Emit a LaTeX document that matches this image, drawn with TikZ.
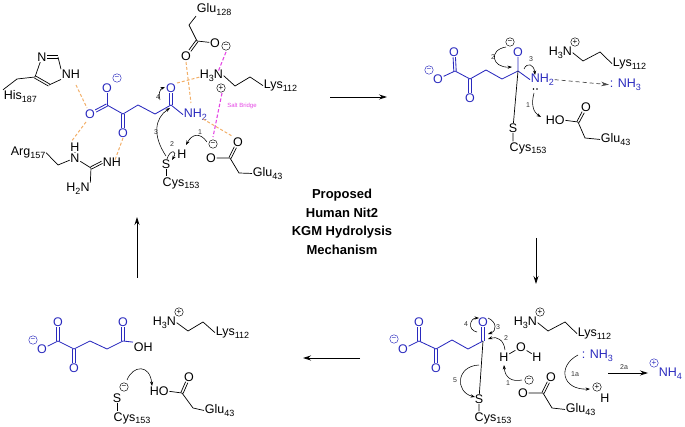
\documentclass[tikz,border=0pt]{standalone}
\usepackage{fontspec}
\setmainfont{Liberation Sans}
\usetikzlibrary{arrows.meta,calc}
\definecolor{molblue}{RGB}{42,42,190}
\definecolor{hbond}{RGB}{242,175,105}
\definecolor{salt}{RGB}{228,70,228}
\newcommand\sbs[1]{\raisebox{-2.6pt}{\fontsize{9}{9}\selectfont #1}}
\newcommand\A[4][]{\node[atom,#1] (#2) at (#3) {#4};}
\newcommand\CH[2]{\coordinate (#1) at (#2);}
\newcommand\CA[5]{\coordinate (#1s) at (#2); \coordinate (#1e) at (#5); \draw[curv] (#1s) .. controls (#3) and (#4) .. (#1e);}
\newcommand\HB[3]{\coordinate (#1s) at (#2); \coordinate (#1e) at (#3); \draw[hb] (#1s) -- (#1e);}
\newcommand\SB[3]{\coordinate (#1s) at (#2); \coordinate (#1e) at (#3); \draw[sb] (#1s) -- (#1e);}
% double bond between two named points: two parallel strokes
\newcommand\DB[3]{\path (#2)--(#3) coordinate[pos=0] (dbp) coordinate[pos=1] (dbq);
  \draw[#1] ($(dbp)!1.2pt!90:(dbq)$) -- ($(dbq)!1.2pt!-90:(dbp)$);
  \draw[#1] ($(dbp)!1.2pt!-90:(dbq)$) -- ($(dbq)!1.2pt!90:(dbp)$);}
\tikzset{
  x=1pt,y=-1pt,
  atom/.style={inner sep=0.6pt,font=\fontsize{12.5}{12.5}\selectfont,text=black},
  lw/.style={anchor=mid west,inner sep=0.6pt},
  bl/.style={text=molblue},
  bb/.style={draw=black,line width=0.7pt},
  bm/.style={draw=molblue,line width=0.85pt},
  curv/.style={draw=black,line width=0.55pt,-{Stealth[length=4.5pt,width=3.2pt]}},
  main/.style={draw=black,line width=0.8pt,-{Stealth[length=8pt,width=5pt]}},
  hb/.style={draw=hbond,line width=1pt,dash pattern=on 3pt off 2pt},
  sb/.style={draw=salt,line width=1.1pt,dash pattern=on 3.5pt off 2pt},
  num/.style={font=\fontsize{7}{7}\selectfont,inner sep=0pt,text=black!80},
  chg/.style={circle,draw=black,line width=0.45pt,minimum size=8.5pt,inner sep=0pt,font=\fontsize{8}{8}\selectfont},
  chgb/.style={chg,draw=molblue,text=molblue},
  ttl/.style={font=\fontsize{13}{13}\bfseries\selectfont,inner sep=0pt},
  sbt/.style={font=\fontsize{6}{6}\selectfont,text=salt,inner sep=0pt}
}
\begin{document}
\begin{tikzpicture}
\useasboundingbox (0,0) rectangle (685,427);

% ---------- panel A ----------
\A[bl]{ao1}{107,88}{O} \node[chgb] (aom1) at (117,78) {−};
\A[bl]{ao2}{90,114}{O}
\CH{ac1}{107,105} \CH{ac2}{123,114} \CH{ac3}{138,105} \CH{ac4}{155,114} \CH{ac5}{171,105}
\A[bl]{ao3}{123,133}{O} \A[bl]{ao4}{171,88}{O}
\A[bl,lw]{anh}{183,115}{NH\sbs{2}}
\draw[bm] (ac1)--(ac2)--(ac3)--(ac4)--(ac5)--(anh.west);
\draw[bm] (ao1)--(ac1);
\DB{bm}{ac1}{ao2}
\DB{bm}{ac2}{ao3}
\DB{bm}{ac5}{ao4}
% his
\A{ahn3}{42,57}{N} \A[lw]{ahnh}{61,76}{NH}
\CH{ahc2}{58,57} \CH{ahc4}{35,77} \CH{ahc5}{49,85} \CH{ahch}{17,79}
\A[lw]{ahis}{3,97}{His\sbs{187}}
\draw[bb] (ahn3)--(ahc4) (ahc2)--(ahnh.north west) (ahc5)--(ahnh.south west) (ahc4)--(ahch)--(ahis.north west);
\DB{bb}{ahc4}{ahc5}
\DB{bb}{ahn3}{ahc2}
% arg
\A[lw]{aarg}{10,153}{Arg\sbs{157}}
\CH{aa1}{58,165} \A{aan}{75,158}{N} \A{aah}{75,147}{H} \CH{aac}{91,168}
\A[lw]{aanh}{102,164}{NH} \A{aanh2}{78,189}{H\sbs{2}N}
\draw[bb] (aarg.east)--(aa1)--(aan) (aan)--(aac) (aan)--(aah) (aac)--(aanh2.north east);
\DB{bb}{aac}{aanh.west}
% glu128
\A[lw]{ag128}{196,10}{Glu\sbs{128}}
\CH{agc1}{189,25} \CH{agc2}{197,41} \A{ago1}{186,56}{O} \A{ago2}{215,43}{O}
\node[chg] (agm) at (226,46) {−};
\draw[bb] (ag128.south west)--(agc1)--(agc2)--(ago2);
\DB{bb}{agc2}{ago1}
% lys
\A[lw]{alysn}{199,76}{H\sbs{3}N} \node[chg] (alysp) at (221,88) {+};
\CH{al1}{235,86} \CH{al2}{250,77} \A[lw]{alys}{263,86}{Lys\sbs{112}}
\draw[bb] (alysn.east)--(al1)--(al2)--(alys.west);
% cys
\A{as}{166,164}{S} \A{ah}{182,154}{H} \A{acys}{181,183}{Cys\sbs{153}}
\draw[bb] (as)--(as|-acys.north);
% glu43
\A{aeo1}{211,158}{O} \CH{aec}{230,158} \A{aeo2}{238,142}{O} \CH{aech}{239,173}
\A[lw]{aglu}{252,174}{Glu\sbs{43}} \node[chg] (aem) at (213,144) {−};
\draw[bb] (aeo1)--(aec)--(aech)--(aglu.west);
\DB{bb}{aec}{aeo2}
% h-bonds
\HB{ah1}{76,85}{87,108} \HB{ah2}{86,122}{71,142} \HB{ah3}{123,138}{115,160}
\HB{ah4}{186,62}{191,103} \HB{ah5}{177,83}{200,77} \HB{ah6}{203,119}{232,136}
\SB{asb1}{226,52}{218,72} \SB{asb2}{222,93}{213,137}
\node[sbt] (asb) at (242,106) {Salt Bridge};
% electron arrows
\CA{am4}{160,100}{158,94}{160,89}{165,87}
\CA{am3}{166,156}{152,135}{155,118}{170,108}
\CA{am2}{167,159}{170,149}{178,150}{172,160}
\CA{am1}{207,142}{200,132}{192,134}{186,145}
\node[num] (an1) at (200,132) {1};
\node[num] (an2) at (172,144) {2};
\node[num] (an3) at (156,132) {3};
\node[num] (an4) at (158,97) {4};

% ---------- panel B ----------
\node[chgb] (bom) at (429,70) {−};
\A[bl]{bo1}{438,79}{O} \CH{bc1}{455,71} \A[bl]{bo2}{454,52}{O}
\CH{bc2}{470,79} \A[bl]{bo3}{470,98}{O} \CH{bc3}{486,70} \CH{bc4}{502,79} \CH{bc5}{518,71}
\A[bl]{bo4}{518,52}{O} \A[bl,lw]{bnh}{530,80}{NH\sbs{2}}
\draw[bm] (bo1)--(bc1)--(bc2)--(bc3)--(bc4)--(bc5)--(bnh.west) (bc5)--(bo4);
\DB{bm}{bc1}{bo2}
\DB{bm}{bc2}{bo3}
\A{bs}{513,128}{S} \A{bcys}{528,148}{Cys\sbs{153}}
\draw[bb] (bc5)--(bs) (bs)--(bs|-bcys.north);
\node[chg] (bm) at (510,42) {−};
\CA{bm2}{506,47}{488,50}{492,68}{512,67}
\CA{bm3}{524,69}{527,62}{534,64}{535,75}
\CA{bm1}{534,93}{531,104}{533,112}{541,117}
\fill[black] (533.5,89) circle (0.8pt) (537,89) circle (0.8pt);
\node[num] (bn1) at (528,105) {1};
\node[num] (bn2) at (493,57) {2};
\node[num] (bn3) at (531,59) {3};
\A[lw]{bho}{545,122}{HO} \CH{bec}{578,122} \A{beo}{586,107}{O} \CH{bech}{585,138}
\A[lw]{bglu}{600,140}{Glu\sbs{43}}
\draw[bb] (bho.east)--(bec)--(bech)--(bglu.west);
\DB{bb}{bec}{beo}
\A[lw]{blysn}{548,53}{H\sbs{3}N} \node[chg] (blysp) at (575,42) {+};
\CH{bl1}{583,61} \CH{bl2}{600,52} \A[lw]{blys}{612,64}{Lys\sbs{112}}
\draw[bb] (blysn.east)--(bl1)--(bl2)--(blys.west);
\A[bl,lw]{bnh3}{609,85}{: NH\sbs{3}}
\draw[draw=black!70,line width=0.7pt,dash pattern=on 4pt off 3pt,-{Stealth[length=8pt,width=4.5pt]}] (bnh.east)--(bnh3.west);

% ---------- panel C ----------
\node[chgb] (com) at (394,339) {−};
\A[bl]{co1}{403,349}{O} \CH{cc1}{419,341} \A[bl]{co2}{419,322}{O}
\CH{cc2}{436,349} \A[bl]{co3}{436,368}{O} \CH{cc3}{452,340} \CH{cc4}{468,349} \CH{cc5}{483,341}
\A[bl]{co4}{483,322}{O}
\draw[bm] (co1)--(cc1)--(cc2)--(cc3)--(cc4)--(cc5);
\DB{bm}{cc1}{co2}
\DB{bm}{cc2}{co3}
\DB{bm}{cc5}{co4}
\A{cs}{479,399}{S} \A{ccys}{493,418}{Cys\sbs{153}}
\draw[bb] (cc5)--(cs) (cs)--(cs|-ccys.north);
\A{chh1}{504,357}{H} \A{cow}{521,347}{O} \A{chh2}{537,357}{H}
\draw[bb] (chh1)--(cow)--(chh2);
\node[chg] (cem) at (529,380) {−};
\A{ceo1}{523,393}{O} \CH{cec}{543,393} \A{ceo2}{551,377}{O} \CH{cech}{552,408}
\A[lw]{cglu}{565,410}{Glu\sbs{43}}
\draw[bb] (ceo1)--(cec)--(cech)--(cglu.west);
\DB{bb}{cec}{ceo2}
\A[lw]{clysn}{513,323}{H\sbs{3}N} \node[chg] (clysp) at (540,312) {+};
\CH{cl1}{548,331} \CH{cl2}{565,322} \A[lw]{clys}{577,334}{Lys\sbs{112}}
\draw[bb] (clysn.east)--(cl1)--(cl2)--(clys.west);
\A[bl,lw]{cnh3}{581,356}{: NH\sbs{3}}
\node[chg] (chp) at (597,387) {+}; \A{chh3}{605,398}{H}
\node[chgb] (cnp) at (654,363) {+}; \A[bl,lw]{cnh4}{658,374}{NH\sbs{4}}
\CH{ca2as}{608,373} \CH{ca2ae}{648,373}
\draw[main] (ca2as)--(ca2ae);
\node[num] (cn2a) at (624,367) {2a};
\CA{cm4}{477,332}{467,330}{470,318}{479,318}
\CA{cm3}{488,318}{497,322}{497,331}{488,334}
\CA{cm2}{505,350}{504,340}{497,336}{488,339}
\CA{cm1}{522,380}{512,382}{505,378}{504,365}
\CA{cm5}{479,365}{456,366}{455,392}{475,397}
\CA{cm1a}{578,355}{557,366}{562,390}{590,389}
\node[num] (cn1) at (508,383) {1};
\node[num] (cn2) at (506,338) {2};
\node[num] (cn3) at (498,327) {3};
\node[num] (cn4) at (466,324) {4};
\node[num] (cn5) at (455,380) {5};
\node[num] (cn1a) at (575,374) {1a};

% ---------- panel D ----------
\node[chgb] (dom) at (33,340) {−};
\A[bl]{do1}{42,349}{O} \CH{dc1}{58,341} \A[bl]{do2}{58,322}{O}
\CH{dc2}{74,349} \A[bl]{do3}{74,368}{O} \CH{dc3}{90,341} \CH{dc4}{107,349} \CH{dc5}{123,341}
\A[bl]{do4}{123,322}{O} \A[lw]{doh}{133,349}{OH}
\draw[bm] (do1)--(dc1)--(dc2)--(dc3)--(dc4)--(dc5)--(doh.north west);
\DB{bm}{dc1}{do2}
\DB{bm}{dc2}{do3}
\DB{bm}{dc5}{do4}
\A[lw]{dlysn}{152,323}{H\sbs{3}N} \node[chg] (dlysp) at (179,312) {+};
\CH{dl1}{188,331} \CH{dl2}{203,322} \A[lw]{dlys}{215,333}{Lys\sbs{112}}
\draw[bb] (dlysn.east)--(dl1)--(dl2)--(dlys.west);
\A{ds}{117,398}{S} \node[chg] (dsm) at (124,387) {−}; \A{dcys}{132,418}{Cys\sbs{153}}
\draw[bb] (ds)--(ds|-dcys.north);
\A[lw]{dho}{149,393}{HO} \CH{dec}{182,393} \A{deo}{189,377}{O} \CH{dech}{193,408}
\A[lw]{dglu}{204,411}{Glu\sbs{43}}
\draw[bb] (dho.east)--(dec)--(dech)--(dglu.west);
\DB{bb}{dec}{deo}
\CA{dm}{127,380}{133,365}{150,364}{152,386}

% ---------- reaction arrows ----------
\CH{r1s}{330,97} \CH{r1e}{387,97} \draw[main] (r1s)--(r1e);
\CH{r2s}{536,238} \CH{r2e}{536,284} \draw[main] (r2s)--(r2e);
\CH{r3s}{360,358} \CH{r3e}{303,358} \draw[main] (r3s)--(r3e);
\CH{r4s}{137,278} \CH{r4e}{137,217} \draw[main] (r4s)--(r4e);

% ---------- title ----------
\node[ttl] (t1) at (342,195) {Proposed};
\node[ttl] (t2) at (342,213) {Human Nit2};
\node[ttl] (t3) at (342,232) {KGM Hydrolysis};
\node[ttl] (t4) at (342,250) {Mechanism};
\end{tikzpicture}
\end{document}
